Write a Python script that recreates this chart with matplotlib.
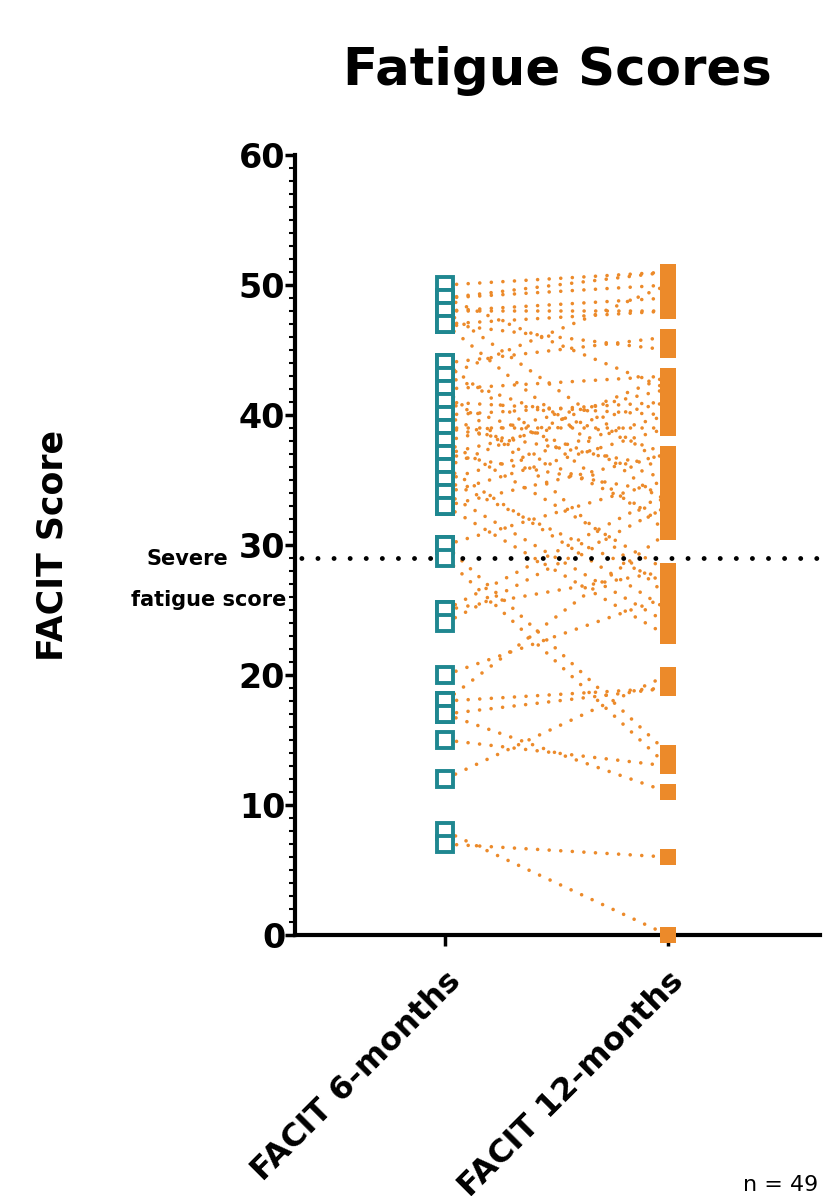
import matplotlib
matplotlib.use("Agg")
import matplotlib.pyplot as plt
from matplotlib.ticker import MultipleLocator

plt.rcParams["font.family"] = ["DejaVu Sans"]

groups = ["FACIT 6-months", "FACIT 12-months"]

# paired FACIT scores per subject (n = 49)
six_months = [50, 49, 49, 49, 48, 48, 48, 47, 47, 47,
              44, 44, 43, 43, 42, 42, 41, 41, 40, 40,
              39, 39, 38, 38, 37, 37, 36, 36, 35, 35,
              34, 34, 33, 33, 30, 30, 29, 25, 25, 24,
              20, 18, 18, 17, 17, 15, 12, 8, 7]
twelve_months = [51, 51, 50, 42, 49, 48, 36, 48, 45, 33,
                 46, 31, 50, 37, 43, 26, 40, 35, 41, 32,
                 39, 36, 42, 28, 41, 34, 43, 25, 40, 27,
                 39, 24, 37, 23, 35, 14, 13, 34, 28, 33,
                 26, 31, 19, 19, 11, 13, 20, 0, 6]
severe_cutoff = 29

teal = "#1f8790"
orange = "#ec8a2a"

fig = plt.figure(figsize=(8.23, 11.96), dpi=100)
ax = fig.add_axes([0.3584, 0.2182, 0.638, 0.6522])

for a, b in zip(six_months, twelve_months):
    ax.plot([0, 1], [a, b], color=orange, lw=2.6,
            linestyle=(0, (0.01, 3.2)), dash_capstyle="round", zorder=1)

ax.plot([0] * len(six_months), six_months, linestyle="none", marker="s",
        markersize=11, markerfacecolor="white", markeredgecolor=teal,
        markeredgewidth=2.8, zorder=3, clip_on=False)
ax.plot([1] * len(twelve_months), twelve_months, linestyle="none", marker="s",
        markersize=12, markerfacecolor=orange, markeredgecolor=orange,
        markeredgewidth=0, zorder=3, clip_on=False)

ax.axhline(severe_cutoff, color="black", lw=3.5, linestyle=(2, (0.01, 3.3)),
           dash_capstyle="round", zorder=2)

ax.set_xlim(-0.673, 1.682)
ax.set_ylim(0, 60)
ax.set_xticks([0, 1])
ax.set_xticklabels(groups, rotation=45, ha="right", rotation_mode="anchor",
                   fontsize=23, fontweight="bold")
ax.yaxis.set_major_locator(MultipleLocator(10))
ax.yaxis.set_minor_locator(MultipleLocator(1))
ax.tick_params(axis="y", which="major", length=7, width=2.5, labelsize=24,
               pad=0)
ax.tick_params(axis="y", which="minor", length=4, width=1.5)
ax.tick_params(axis="x", which="major", length=8, width=2.5, pad=14)
for lab in ax.get_yticklabels():
    lab.set_fontweight("bold")

for s in ["top", "right"]:
    ax.spines[s].set_visible(False)
ax.spines["left"].set_linewidth(3)
ax.spines["bottom"].set_linewidth(3)
ax.spines["left"].set_bounds(0, 60)

ax.set_ylabel("FACIT Score", fontsize=25, fontweight="bold")
ax.yaxis.set_label_coords(-0.43, 0.5)

fig.text(0.677, 0.941, "Fatigue Scores", fontsize=37, fontweight="bold",
         ha="center", va="center")
fig.text(0.228, 0.533, "Severe", fontsize=15, fontweight="bold",
         ha="center", va="center")
fig.text(0.254, 0.498, "fatigue score", fontsize=15, fontweight="bold",
         ha="center", va="center")
fig.text(0.948, 0.009, "n = 49", fontsize=16, ha="center", va="center")

fig.savefig("out.png", dpi=100)
